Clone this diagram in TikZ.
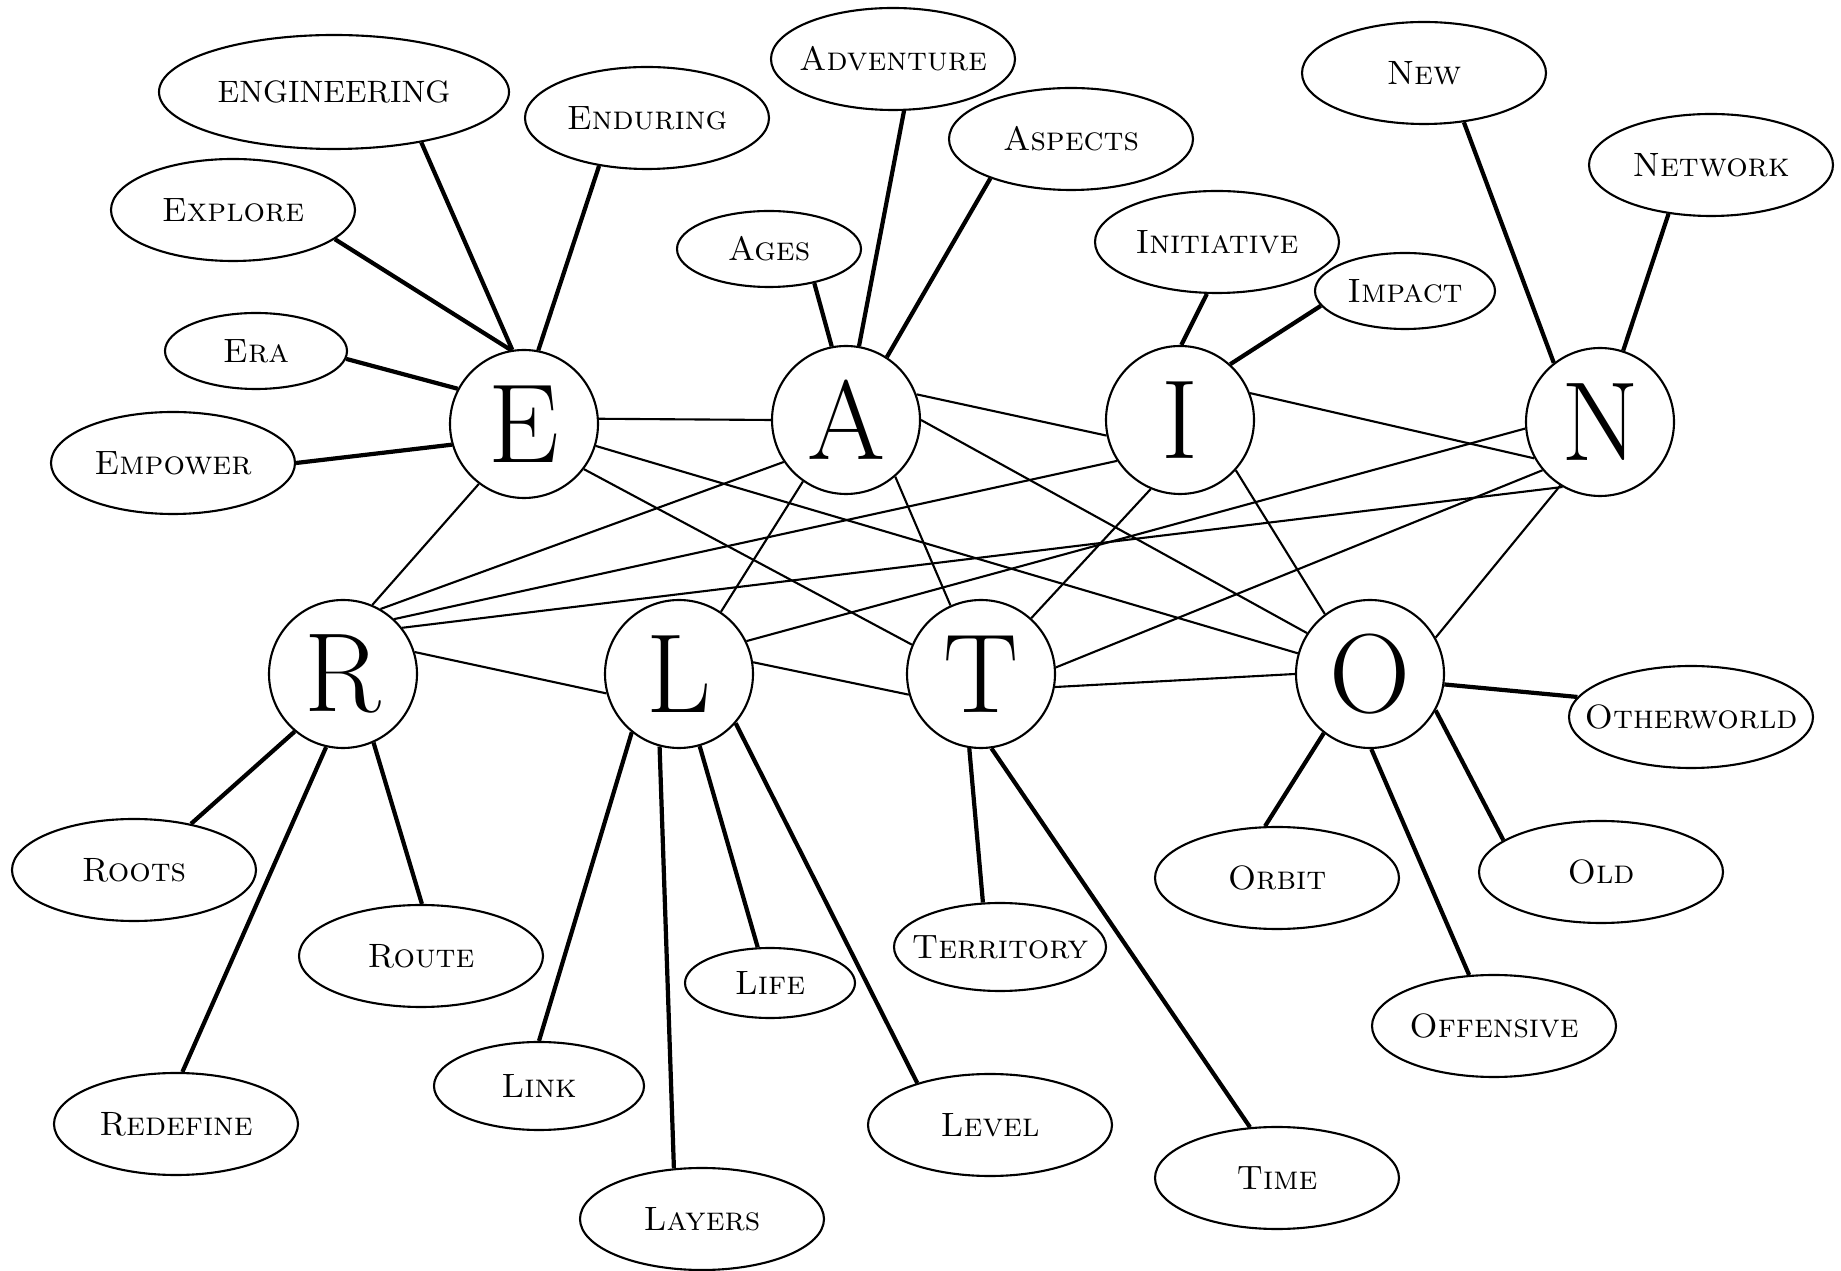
\documentclass[tikz,border=0pt]{standalone}
\usetikzlibrary{shapes.geometric}
\tikzset{
  letter/.style={circle,draw,line width=0.6pt,minimum size=1.48cm,inner sep=0pt,font=\fontsize{32}{32}\selectfont},
  word/.style={ellipse,draw,line width=0.6pt,minimum width=2.44cm,minimum height=1.02cm,inner sep=0pt,inner xsep=-8pt,font=\fontsize{9.6}{11}\selectfont\scshape},
  smallword/.style={minimum width=1.82cm,minimum height=0.76cm},
  letterline/.style={line width=0.6pt},
  wordline/.style={line width=1.2pt}
}

\begin{document}
\begin{tikzpicture}
  \useasboundingbox (0,0) rectangle (18.41,-12.71);
  % the eight letters
  \node[letter] (E) at (5.24,-4.24) {E};
  \node[letter] (A) at (8.46,-4.20) {A};
  \node[letter] (I) at (11.80,-4.20) {I};
  \node[letter] (N) at (16.00,-4.22) {N};
  \node[letter] (R) at (3.43,-6.74) {R};
  \node[letter] (L) at (6.79,-6.74) {L};
  \node[letter] (T) at (9.81,-6.74) {T};
  \node[letter] (O) at (13.70,-6.74) {O};

  % words on top
  \node[word,minimum width=3.5cm,minimum height=1.14cm,font=\fontsize{8.8}{11}\selectfont] (engineering) at (3.34,-0.92) {ENGINEERING};
  \node[word] (enduring) at (6.47,-1.18) {Enduring};
  \node[word] (explore) at (2.33,-2.10) {Explore};
  \node[word,smallword] (era) at (2.56,-3.51) {Era};
  \node[word] (empower) at (1.73,-4.63) {Empower};
  \node[word] (adventure) at (8.93,-0.59) {Adventure};
  \node[word,smallword,minimum width=1.84cm] (ages) at (7.69,-2.49) {Ages};
  \node[word] (aspects) at (10.71,-1.39) {Aspects};
  \node[word] (initiative) at (12.17,-2.42) {Initiative};
  \node[word,smallword,minimum width=1.8cm] (impact) at (14.05,-2.91) {Impact};
  \node[word] (new) at (14.24,-0.73) {New};
  \node[word] (network) at (17.11,-1.65) {Network};

  % words below
  \node[word] (roots) at (1.34,-8.70) {Roots};
  \node[word] (route) at (4.21,-9.56) {Route};
  \node[word] (redefine) at (1.76,-11.24) {Redefine};
  \node[word,minimum width=2.1cm,minimum height=0.88cm] (link) at (5.39,-10.86) {Link};
  \node[word] (layers) at (7.02,-12.19) {Layers};
  \node[word,minimum width=1.7cm,minimum height=0.7cm] (life) at (7.70,-9.83) {Life};
  \node[word] (level) at (9.90,-11.25) {Level};
  \node[word,minimum width=2.12cm,minimum height=0.88cm] (territory) at (10.00,-9.47) {Territory};
  \node[word] (time) at (12.77,-11.78) {Time};
  \node[word] (orbit) at (12.77,-8.78) {Orbit};
  \node[word] (old) at (16.01,-8.72) {Old};
  \node[word] (offensive) at (14.94,-10.26) {Offensive};
  \node[word] (otherworld) at (16.91,-7.17) {Otherworld};

  % letter to letter
  \draw[letterline] (E.4) -- (A.180);
  \draw[letterline] (E.-17) -- (O.164);
  \draw[letterline] (E.-37) -- (T.157);
  \draw[letterline] (E.233) -- (R.67);
  \draw[letterline] (A.214) -- (R.60);
  \draw[letterline] (A.235) -- (L.56);
  \draw[letterline] (A.-49) -- (T.114);
  \draw[letterline] (A.20) -- (I.192);
  \draw[letterline] (A.0) -- (O.147);
  \draw[letterline] (R.47) -- (I.213);
  \draw[letterline] (R.38) -- (N.240);
  \draw[letterline] (R.17) -- (L.195);
  \draw[letterline] (L.26) -- (N.185);
  \draw[letterline] (L.9) -- (T.196);
  \draw[letterline] (I.21) -- (N.209);
  \draw[letterline] (I.247) -- (T.48);
  \draw[letterline] (I.-42) -- (O.127);
  \draw[letterline] (N.220) -- (T.5);
  \draw[letterline] (N.238) -- (O.29);
  \draw[letterline] (T.-10) -- (O.180);

  % word to letter
  \draw[wordline] (engineering.-30) -- (E.99);
  \draw[wordline] (enduring.-135) -- (E.79);
  \draw[wordline] (explore.-16) -- (E.100);
  \draw[wordline] (era.-5) -- (E.152);
  \draw[wordline] (empower.0) -- (E.196);
  \draw[wordline] (adventure.-78) -- (A.80);
  \draw[wordline] (ages.-37) -- (A.101);
  \draw[wordline] (aspects.206) -- (A.57);
  \draw[wordline] (initiative.259) -- (I.89);
  \draw[wordline] (impact.190) -- (I.48);
  \draw[wordline] (new.-51) -- (N.128);
  \draw[wordline] (network.229) -- (N.72);
  \draw[wordline] (roots.39) -- (R.230);
  \draw[wordline] (redefine.83) -- (R.257);
  \draw[wordline] (route.89) -- (R.294);
  \draw[wordline] (link.90) -- (L.231);
  \draw[wordline] (layers.119) -- (L.255);
  \draw[wordline] (life.109) -- (L.286);
  \draw[wordline] (level.150) -- (L.319);
  \draw[wordline] (territory.111) -- (T.261);
  \draw[wordline] (time.118) -- (T.278);
  \draw[wordline] (orbit.103) -- (O.232);
  \draw[wordline] (offensive.116) -- (O.271);
  \draw[wordline] (old.162) -- (O.331);
  \draw[wordline] (otherworld.170) -- (O.352);
\end{tikzpicture}
\end{document}
